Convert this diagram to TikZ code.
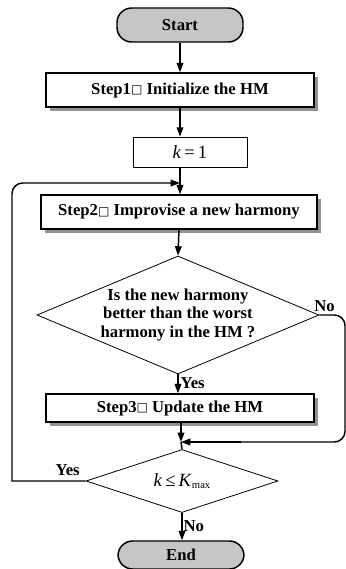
\documentclass[tikz,border=0pt]{standalone}
\usepackage{fontspec}
\setmainfont{Liberation Serif}
\newfontfamily\symfont{DejaVu Sans}
\usetikzlibrary{shapes.geometric,arrows.meta,calc,shadows}
\newcommand{\bx}{{\symfont\fontsize{9pt}{10pt}\selectfont\raisebox{0.1ex}{□}}}
\begin{document}
\begin{tikzpicture}[x=0.75pt,y=-0.75pt,
  base/.style={font=\bfseries\fontsize{12.5pt}{14pt}\selectfont, line width=1.1pt},
  term/.style={base, draw, fill=gray!45, rounded corners=11pt, minimum width=94.5pt, minimum height=25.5pt, inner sep=0pt},
  proc/.style={base, draw, fill=white, minimum height=25.5pt, inner sep=0pt,
     drop shadow={shadow xshift=3pt, shadow yshift=-3pt, fill=gray!85, opacity=1}},
  plain/.style={draw, line width=0.6pt, fill=white, inner sep=0pt, font=\fontsize{14pt}{16pt}\selectfont},
  dia/.style={diamond, draw, line width=0.6pt, inner sep=0pt},
  lbl/.style={font=\bfseries\fontsize{12.5pt}{14pt}\selectfont, inner sep=1pt},
  arr/.style={line width=1.1pt, -{Triangle[length=7pt,width=5pt]}},
  ln/.style={line width=1.1pt}
]
\useasboundingbox (0,0) rectangle (346,569);
\node[term] (start) at (180,25) {Start};
\node[proc, minimum width=201pt] (s1) at (180,90) {Step1\bx\ Initialize the HM};
\node[plain, minimum width=85.5pt, minimum height=22.5pt] (k1) at (190,152) {\textit{k}\,=\,1};
\node[proc, minimum width=207pt] (s2) at (179,212) {Step2\bx\ Improvise a new harmony};
\node[dia, minimum width=211.5pt, minimum height=88.5pt] (d1) at (178,315) {};
\node[lbl, align=center] (d1t) at (d1) {Is the new harmony\\better than the worst\\harmony in the HM ?};
\node[proc, minimum width=201pt, minimum height=21pt] (s3) at (180,408) {Step3\bx\ Update the HM};
\node[dia, minimum width=144pt, minimum height=47.25pt] (d2) at (182,481) {};
\node[font=\fontsize{14pt}{16pt}\selectfont] (d2t) at (d2) {\textit{k}\,≤\,\textit{K}{\fontsize{8pt}{9pt}\selectfont\raisebox{-0.5ex}{max}}};
\node[term, minimum height=21pt] (end) at (181,555) {End};
\coordinate (j1) at (180,183);
\coordinate (j2) at (181,442);
\coordinate (lx) at (12,0);
\coordinate (rx) at (345,0);
\draw[arr] (start) -- (s1);
\draw[arr] (s1.south) -- (s1.south |- k1.north);
\draw[ln] (j1 |- k1.south) -- (j1);
\draw[arr] (j1) -- (j1 |- s2.north);
\draw[arr] (d2.west) -- (d2.west -| lx) [rounded corners=8pt] -- (lx |- j1) -- (j1);
\draw[arr] (s2.south) -- (d1.north);
\draw[arr] (d1.south) -- (s3.north -| d1.south);
\draw[ln, rounded corners=8pt] (d1.east) -- (d1.east -| rx) -- (rx |- j2) -- ($(j2)+(60,0)$);
\draw[arr] ($(j2)+(60,0)$) -- (j2);
\draw[arr] (s3.south -| j2) -- (j2);
\draw[ln] (j2) -- (d2.north);
\draw[arr] (d2.south) -- (end.north -| d2.south);
\node[lbl, anchor=south east] (no1) at ($(d1.east)+(17,-2)$) {No};
\node[lbl, anchor=west] (yes1) at ($(d1.south)+(1,9)$) {Yes};
\node[lbl, anchor=south] (yes2) at ($(d2.west)+(-18,-4)$) {Yes};
\node[lbl, anchor=west] (no2) at ($(d2.south)+(0,13)$) {No};
\end{tikzpicture}
\end{document}
